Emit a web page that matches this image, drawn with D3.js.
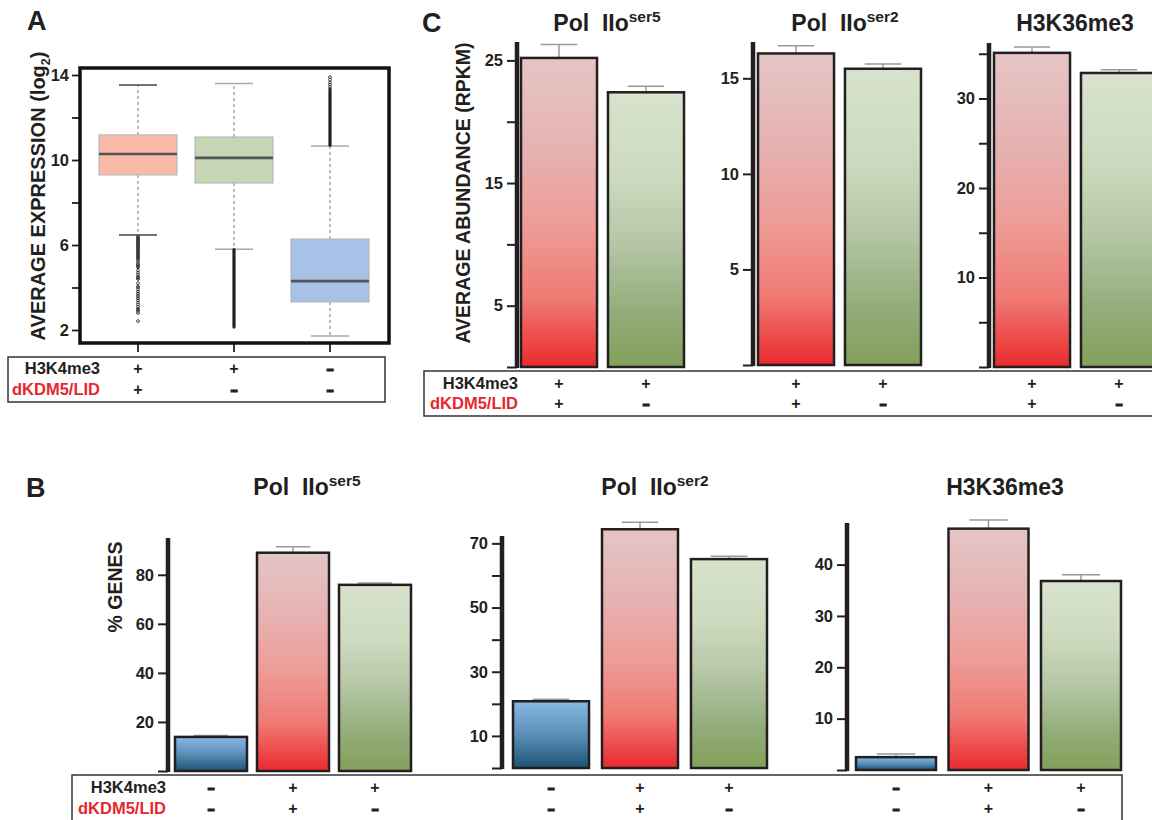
<!DOCTYPE html>
<html><head><meta charset="utf-8">
<script src="https://cdn.jsdelivr.net/npm/d3@7"></script>
<style>
html,body{margin:0;padding:0;background:#fff;}
svg{display:block;font-family:"Liberation Sans",Arial,Helvetica,sans-serif;font-weight:bold;}
</style></head>
<body>
<svg id="fig" width="1152" height="820"></svg>
<script>
// ---------- DATA ----------
// Panel A: box plots of average expression (log2)
const boxGroups = ["H3K4me3+ / LID+", "H3K4me3+ / LID-", "H3K4me3- / LID-"];
const boxQ1 = [9.3, 8.92, 3.32];
const boxMedian = [10.28, 10.1, 4.3];
const boxQ3 = [11.18, 11.08, 6.28];
const whiskerLow = [6.47, 5.8, 1.72];
const whiskerHigh = [13.53, 13.6, 10.66];
const outliers1 = [6.4,6.35,6.3,6.25,6.2,6.15,6.1,6.05,6.0,5.95,5.9,5.85,5.8,5.75,5.7,5.65,5.6,5.55,5.5,5.45,5.4,5.35,5.3,5.2,5.1,5.05,5.0,4.95,4.8,4.7,4.6,4.5,4.45,4.4,4.2,4.05,4.0,3.9,3.8,3.7,3.6,3.5,3.4,3.3,3.2,3.1,3.0,2.95,2.9,2.8,2.42];
const outliers2Run = [2.14, 5.78];
const outliers3Run = [10.7, 13.35];
const outliers3 = [13.45, 13.55, 13.65, 13.78, 13.9];
const boxTicksMajor = [2, 6, 10, 14];
const boxTicksMinor = [4, 8, 12];
const boxH3K4 = ["+", "+", "-"];
const boxLID = ["+", "-", "-"];

// Panel C: average abundance (RPKM)
const cCats = ["H3K4me3+ / LID+", "H3K4me3+ / LID-"];
const cH3K4 = ["+", "+"];
const cLID = ["+", "-"];
const cSer5Values = [25.2, 22.4];
const cSer5Err = [1.1, 0.5];
const cSer2Values = [16.3, 15.5];
const cSer2Err = [0.4, 0.25];
const cK36Values = [35.1, 32.85];
const cK36Err = [0.65, 0.35];
const cSer5Major = [5, 15, 25], cSer5Minor = [0, 10, 20];
const cSer2Major = [5, 10, 15], cSer2Minor = [0];
const cK36Major = [10, 20, 30], cK36Minor = [0, 5, 15, 25, 35];

// Panel B: % genes
const bCats = ["H3K4me3- / LID-", "H3K4me3+ / LID+", "H3K4me3+ / LID-"];
const bH3K4 = ["-", "+", "+"];
const bLID = ["-", "+", "-"];
const bSer5Values = [13.9, 89.0, 75.9];
const bSer5Err = [0.6, 2.4, 0.8];
const bSer2Values = [20.8, 74.4, 65.1];
const bSer2Err = [0.6, 2.2, 0.9];
const bK36Values = [2.5, 47.0, 36.8];
const bK36Err = [0.6, 1.7, 1.2];
const bSer5Major = [20, 40, 60, 80], bSer5Minor = [0];
const bSer2Major = [10, 30, 50, 70], bSer2Minor = [0, 20, 40, 60];
const bK36Major = [10, 20, 30, 40], bK36Minor = [0];

// ---------- DRAW ----------
const svg = d3.select("#fig");
const defs = svg.append("defs");
function grad(id, stops){
  const g = defs.append("linearGradient").attr("id", id).attr("x1",0).attr("y1",0).attr("x2",0).attr("y2",1);
  stops.forEach(s => g.append("stop").attr("offset", s[0]).attr("stop-color", s[1]));
}
grad("gRed", [[0,"#e5c5c5"],[0.3,"#e6b1b1"],[0.55,"#ee9b96"],[0.78,"#f07a74"],[1,"#ea2a2d"]]);
grad("gGreen", [[0,"#d8e2cc"],[0.3,"#cddabf"],[0.55,"#b5c6a6"],[0.8,"#92ad7a"],[1,"#83a05a"]]);
grad("gBlue", [[0,"#86b9e4"],[0.5,"#5c8fb8"],[1,"#1b5273"]]);
const fillFor = {"++":"url(#gRed)", "+-":"url(#gGreen)", "--":"url(#gBlue)"};

const INK = "#231f20";
const RED = "#e8262d";

function panelLetter(t, x, y){
  svg.append("text").attr("x", x).attr("y", y).attr("font-size", 27).attr("fill", INK).text(t);
}
function yLabel(t, x, y, size, sub){
  const tx = svg.append("text").attr("transform", `translate(${x},${y}) rotate(-90)`)
    .attr("text-anchor","middle").attr("font-size", size).attr("fill", INK);
  tx.append("tspan").text(t);
  if (sub){
    tx.append("tspan").attr("font-size", size*0.62).attr("dy", 5).text(sub);
    tx.append("tspan").attr("dy", -5).text(")");
  }
}
function title(main, sup, cx, y){
  const t = svg.append("text").attr("x", cx).attr("y", y).attr("text-anchor","middle")
    .attr("font-size", 23).attr("fill", INK).style("white-space","pre");
  t.append("tspan").text(main);
  if (sup) t.append("tspan").attr("font-size", 15.5).attr("dy", -9).text(sup);
}
function signRow(xs, signs, y){
  xs.forEach((x,i) => {
    const minus = signs[i] === "-";
    const t = svg.append("text").attr("text-anchor","middle").attr("font-size", 16).attr("fill", INK)
      .text(minus ? "-" : "+");
    if (minus) t.attr("transform", `translate(${x},${y}) scale(1.45,1)`).attr("stroke", INK).attr("stroke-width", 0.9);
    else t.attr("x", x).attr("y", y);
  });
}
function rowLabels(xRight, y1, y2){
  svg.append("text").attr("x", xRight).attr("y", y1).attr("text-anchor","end")
    .attr("font-size", 16.5).attr("fill", INK).text("H3K4me3");
  svg.append("text").attr("x", xRight).attr("y", y2).attr("text-anchor","end")
    .attr("font-size", 16.5).attr("fill", RED).text("dKDM5/LID");
}

function barPanel(o){
  const y = d3.scaleLinear().domain([0, o.max]).range([o.yZero, o.yTop]);
  const x = d3.scaleBand().domain(o.cats).range(o.xr).paddingInner(o.pad).paddingOuter(0);
  const g = svg.append("g");
  const ticks = o.major.concat(o.minor).sort((a,b)=>a-b);
  const ax = g.append("g").attr("transform", `translate(${o.axisX},0)`)
    .call(d3.axisLeft(y).tickValues(ticks).tickSize(10).tickPadding(4)
      .tickFormat(d => o.major.includes(d) ? d : ""));
  ax.select(".domain").remove();
  ax.selectAll(".tick line").attr("stroke", INK).attr("stroke-width", 2);
  ax.selectAll(".tick text").attr("fill", INK).attr("font-size", 16.5)
    .attr("font-family", "Liberation Sans, Arial, sans-serif").attr("font-weight","bold");
  g.append("line").attr("x1", o.axisX).attr("x2", o.axisX).attr("y1", o.yTop).attr("y2", y(0)+1)
    .attr("stroke", INK).attr("stroke-width", 4.5);
  o.values.forEach((v,i) => {
    const c = o.cats[i], bx = x(c), bw = x.bandwidth();
    const key = o.h3[i] + o.lid[i];
    const cx = bx + bw/2;
    const et = y(v + o.errs[i]);
    g.append("line").attr("x1", cx).attr("x2", cx).attr("y1", y(v)).attr("y2", et)
      .attr("stroke", "#8c8c8c").attr("stroke-width", 1.3);
    g.append("line").attr("x1", cx - bw*0.24).attr("x2", cx + bw*0.24).attr("y1", et).attr("y2", et)
      .attr("stroke", "#9a9a9a").attr("stroke-width", 1.5);
    g.append("rect").attr("x", bx).attr("y", y(v)).attr("width", bw).attr("height", y(0) - y(v))
      .attr("fill", fillFor[key]).attr("stroke", INK).attr("stroke-width", 2.5);
  });
  if (o.title) title(o.title[0], o.title[1], o.titleX, o.titleY);
  return {x, y};
}

// ===== Panel A =====
panelLetter("A", 27, 30);
const yA = d3.scaleLinear().domain([2, 14]).range([330, 75]);
const xA = d3.scalePoint().domain(boxGroups).range([138, 330]);
const boxFill = ["#f9bba8", "#c6d5b4", "#a6c2e6"];
const gA = svg.append("g");
const axA = gA.append("g").attr("transform","translate(80,0)")
  .call(d3.axisLeft(yA).tickValues(boxTicksMajor.concat(boxTicksMinor)).tickSize(8).tickPadding(3)
    .tickFormat(d => boxTicksMajor.includes(d) ? d : ""));
axA.select(".domain").remove();
axA.selectAll(".tick line").attr("stroke", INK).attr("stroke-width", 1.8);
axA.selectAll(".tick text").attr("fill", INK).attr("font-size", 16.5)
  .attr("font-family","Liberation Sans, Arial, sans-serif").attr("font-weight","bold");
boxGroups.forEach(gname => {
  gA.append("line").attr("x1", xA(gname)).attr("x2", xA(gname)).attr("y1", 343).attr("y2", 352)
    .attr("stroke", INK).attr("stroke-width", 1.8);
});
const bwA = 78;
boxGroups.forEach((gname, i) => {
  const cx = xA(gname);
  gA.append("line").attr("x1", cx).attr("x2", cx).attr("y1", yA(boxQ3[i])).attr("y2", yA(whiskerHigh[i]))
    .attr("stroke", "#777").attr("stroke-width", 1).attr("stroke-dasharray", "3,3");
  gA.append("line").attr("x1", cx).attr("x2", cx).attr("y1", yA(boxQ1[i])).attr("y2", yA(whiskerLow[i]))
    .attr("stroke", "#777").attr("stroke-width", 1).attr("stroke-dasharray", "3,3");
  [whiskerHigh[i], whiskerLow[i]].forEach(w => {
    gA.append("line").attr("x1", cx - 19).attr("x2", cx + 19).attr("y1", yA(w)).attr("y2", yA(w))
      .attr("stroke", i === 0 ? "#444" : "#aaa").attr("stroke-width", 1.6);
  });
  gA.append("rect").attr("x", cx - bwA/2).attr("y", yA(boxQ3[i])).attr("width", bwA)
    .attr("height", yA(boxQ1[i]) - yA(boxQ3[i])).attr("fill", boxFill[i])
    .attr("stroke", "#b8b8b8").attr("stroke-width", 1.2);
  gA.append("line").attr("x1", cx - bwA/2).attr("x2", cx + bwA/2).attr("y1", yA(boxMedian[i])).attr("y2", yA(boxMedian[i]))
    .attr("stroke", "#555").attr("stroke-width", 2.6);
});
outliers1.forEach(v => gA.append("circle").attr("cx", xA(boxGroups[0])).attr("cy", yA(v)).attr("r", 1.4)
  .attr("fill", "none").attr("stroke", "#333").attr("stroke-width", 0.9));
gA.append("line").attr("x1", xA(boxGroups[1])).attr("x2", xA(boxGroups[1]))
  .attr("y1", yA(outliers2Run[0])).attr("y2", yA(outliers2Run[1]))
  .attr("stroke", "#222").attr("stroke-width", 3.2).attr("stroke-linecap","round");
gA.append("line").attr("x1", xA(boxGroups[2])).attr("x2", xA(boxGroups[2]))
  .attr("y1", yA(outliers3Run[0])).attr("y2", yA(outliers3Run[1]))
  .attr("stroke", "#222").attr("stroke-width", 3.2).attr("stroke-linecap","round");
outliers3.forEach(v => gA.append("circle").attr("cx", xA(boxGroups[2])).attr("cy", yA(v)).attr("r", 1.4)
  .attr("fill", "none").attr("stroke", "#333").attr("stroke-width", 0.9));
gA.append("rect").attr("x", 80).attr("y", 68).attr("width", 309).attr("height", 275)
  .attr("fill", "none").attr("stroke", "#111").attr("stroke-width", 3.5);
yLabel("AVERAGE EXPRESSION (log", 45, 196, 20, "2");
svg.append("rect").attr("x", 8).attr("y", 357).attr("width", 377).attr("height", 45)
  .attr("fill","none").attr("stroke","#333").attr("stroke-width",1.5);
rowLabels(100, 374, 395);
signRow(boxGroups.map(g => xA(g)), boxH3K4, 374);
signRow(boxGroups.map(g => xA(g)), boxLID, 395);

// ===== Panel C =====
panelLetter("C", 422, 32);
yLabel("AVERAGE ABUNDANCE (RPKM)", 470, 193, 19.5);
const c1 = barPanel({cats: cCats, h3: cH3K4, lid: cLID, values: cSer5Values, errs: cSer5Err,
  max: 26.5, yZero: 367, yTop: 42, axisX: 517, xr: [521, 684], pad: 0.126,
  major: cSer5Major, minor: cSer5Minor, title: ["Pol\u00A0\u00A0IIo", "ser5"], titleX: 607, titleY: 31});
const c2 = barPanel({cats: cCats, h3: cH3K4, lid: cLID, values: cSer2Values, errs: cSer2Err,
  max: 16.9, yZero: 365, yTop: 42, axisX: 753, xr: [758, 921], pad: 0.126,
  major: cSer2Major, minor: cSer2Minor, title: ["Pol\u00A0\u00A0IIo", "ser2"], titleX: 845, titleY: 31});
const c3 = barPanel({cats: cCats, h3: cH3K4, lid: cLID, values: cK36Values, errs: cK36Err,
  max: 36.2, yZero: 367, yTop: 43, axisX: 989, xr: [994, 1157], pad: 0.126,
  major: cK36Major, minor: cK36Minor, title: ["H3K36me3", null], titleX: 1075, titleY: 31});
svg.append("path").attr("d", "M1160,371 H424 V416 H1160").attr("fill","none").attr("stroke","#333").attr("stroke-width",1.5);
rowLabels(518, 389, 409);
[c1, c2, c3].forEach(p => {
  const xs = cCats.map(c => p.x(c) + p.x.bandwidth()/2);
  signRow(xs, cH3K4, 389);
  signRow(xs, cLID, 409);
});

// ===== Panel B =====
panelLetter("B", 26, 497);
yLabel("% GENES", 122, 587, 19.5);
const b1 = barPanel({cats: bCats, h3: bH3K4, lid: bLID, values: bSer5Values, errs: bSer5Err,
  max: 95, yZero: 771, yTop: 538, axisX: 168, xr: [175, 411], pad: 0.122,
  major: bSer5Major, minor: bSer5Minor, title: ["Pol\u00A0\u00A0IIo", "ser5"], titleX: 307, titleY: 495});
const b2 = barPanel({cats: bCats, h3: bH3K4, lid: bLID, values: bSer2Values, errs: bSer2Err,
  max: 72.3, yZero: 768, yTop: 536, axisX: 502, xr: [513, 767], pad: 0.146,
  major: bSer2Major, minor: bSer2Minor, title: ["Pol\u00A0\u00A0IIo", "ser2"], titleX: 655, titleY: 495});
const b3 = barPanel({cats: bCats, h3: bH3K4, lid: bLID, values: bK36Values, errs: bK36Err,
  max: 48.1, yZero: 770, yTop: 523, axisX: 847, xr: [856, 1121], pad: 0.135,
  major: bK36Major, minor: bK36Minor, title: ["H3K36me3", null], titleX: 1005, titleY: 495});
svg.append("path").attr("d", "M72,830 V775 H1122 V830").attr("fill","none").attr("stroke","#333").attr("stroke-width",1.5);
rowLabels(166, 793, 814);
[b1, b2, b3].forEach(p => {
  const xs = bCats.map(c => p.x(c) + p.x.bandwidth()/2);
  signRow(xs, bH3K4, 793);
  signRow(xs, bLID, 814);
});
</script>
</body></html>
